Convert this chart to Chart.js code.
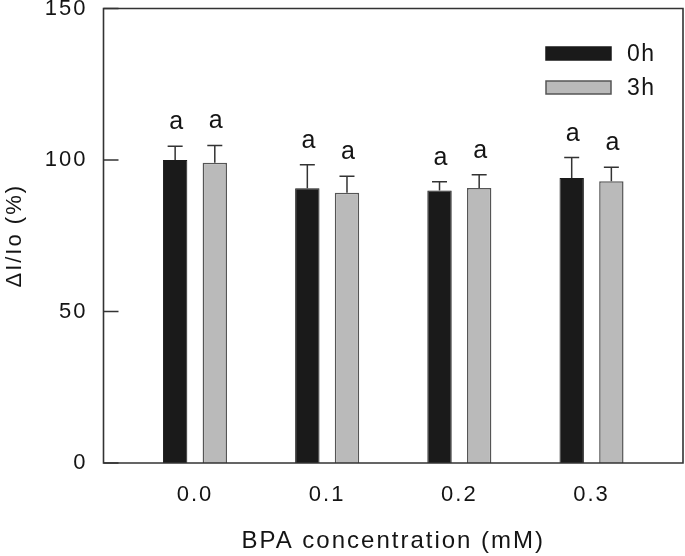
<!DOCTYPE html>
<html>
<head>
<meta charset="utf-8">
<script src="https://cdn.jsdelivr.net/npm/chart.js@4.4.1/dist/chart.umd.min.js"></script>
<style>
html,body{margin:0;padding:0;background:#fff;}
#wrap{width:685px;height:556px;position:relative;}
</style>
</head>
<body>
<div id="wrap"><canvas id="c" width="685" height="556"></canvas></div>
<script>
// ---- data ----
const concentrations = [0.0, 0.1, 0.2, 0.3];
const categoryLabels = ['0.0', '0.1', '0.2', '0.3'];
const seriesNames = ['0h', '3h'];
const values0h = [100.0, 90.7, 89.9, 94.1];
const errors0h = [4.5, 7.7, 2.9, 6.7];
const values3h = [99.1, 89.2, 90.8, 93.0];
const errors3h = [5.7, 5.4, 4.3, 4.6];
const letters0h = ['a', 'a', 'a', 'a'];
const letters3h = ['a', 'a', 'a', 'a'];
const yTicks = [0, 50, 100, 150];
const xTitle = 'BPA concentration (mM)';
const yTitle = 'ΔI/Io (%)';

const FONT = "'Liberation Sans', Arial, Helvetica, sans-serif";
const AXIS_COLOR = '#333333';
const TEXT_COLOR = '#141414';

const ds = [
  {label: seriesNames[0], data: concentrations.map((x, i) => ({x, y: values0h[i]})),
   err: errors0h, letters: letters0h,
   backgroundColor: '#1a1a1a', borderColor: '#1a1a1a', borderWidth: 1},
  {label: seriesNames[1], data: concentrations.map((x, i) => ({x, y: values3h[i]})),
   err: errors3h, letters: letters3h,
   backgroundColor: '#bababa', borderColor: '#555555', borderWidth: 1.5}
];

const spacing = {
  id: 'spacing',
  beforeDraw(chart) { chart.ctx.letterSpacing = '2px'; }
};

const extras = {
  id: 'extras',
  afterDatasetsDraw(chart) {
    const ctx = chart.ctx;
    const y = chart.scales.y;
    const a = chart.chartArea;
    ctx.save();
    // error bars and letters
    chart.data.datasets.forEach((d, di) => {
      const meta = chart.getDatasetMeta(di);
      meta.data.forEach((bar, i) => {
        const top = d.data[i].y + d.err[i];
        const yTop = y.getPixelForValue(top);
        ctx.strokeStyle = '#333';
        ctx.lineWidth = 1.5;
        ctx.beginPath();
        ctx.moveTo(bar.x, bar.y);
        ctx.lineTo(bar.x, yTop);
        ctx.moveTo(bar.x - 7.5, yTop);
        ctx.lineTo(bar.x + 7.5, yTop);
        ctx.stroke();
        ctx.fillStyle = TEXT_COLOR;
        ctx.letterSpacing = '0px';
        ctx.font = '25px ' + FONT;
        ctx.textAlign = 'center';
        ctx.textBaseline = 'alphabetic';
        ctx.fillText(d.letters[i], bar.x + 1, y.getPixelForValue(top + 5.6));
      });
    });
    // frame
    ctx.strokeStyle = AXIS_COLOR;
    ctx.lineWidth = 1.6;
    ctx.beginPath();
    ctx.rect(a.left, a.top, a.right - a.left, a.bottom - a.top);
    ctx.stroke();
    // inward y ticks
    ctx.beginPath();
    yTicks.forEach(v => {
      const py = y.getPixelForValue(v);
      ctx.moveTo(a.left, py);
      ctx.lineTo(a.left + 15, py);
    });
    ctx.stroke();
    // legend
    const lx = 546, lw = 65, lh = 13;
    const rows = [47, 81];
    chart.data.datasets.forEach((d, di) => {
      const ry = rows[di];
      ctx.fillStyle = d.backgroundColor;
      ctx.fillRect(lx, ry, lw, lh);
      ctx.strokeStyle = d.borderColor;
      ctx.lineWidth = 1.5;
      ctx.strokeRect(lx, ry, lw, lh);
      ctx.fillStyle = TEXT_COLOR;
      ctx.letterSpacing = '1.5px';
      ctx.font = '23px ' + FONT;
      ctx.textAlign = 'left';
      ctx.textBaseline = 'middle';
      ctx.fillText(d.label, 627, ry + lh / 2 + 1);
    });
    ctx.restore();
  }
};

new Chart(document.getElementById('c'), {
  type: 'bar',
  data: {datasets: ds},
  options: {
    responsive: false,
    animation: false,
    events: [],
    layout: {padding: {top: 8.5, right: 2, left: 0, bottom: 0}},
    categoryPercentage: 0.6,
    barPercentage: 0.615,
    plugins: {legend: {display: false}, tooltip: {enabled: false}},
    scales: {
      x: {
        type: 'linear',
        min: -0.0692,
        max: 0.3692,
        offset: false,
        grid: {display: false, drawTicks: false},
        border: {display: false},
        afterBuildTicks(s) { s.ticks = concentrations.map(v => ({value: v})); },
        afterFit(s) { s.height = 93; s.paddingLeft = 0; s.paddingRight = 0; },
        ticks: {
          padding: 19,
          color: TEXT_COLOR,
          font: {size: 22, family: FONT},
          maxRotation: 0,
          autoSkip: false,
          callback: (v, i) => categoryLabels[i]
        },
        title: {display: true, text: xTitle, color: TEXT_COLOR,
                font: {size: 24, family: FONT}, padding: {top: 0, bottom: 0}}
      },
      y: {
        min: 0, max: 150,
        grid: {display: false, drawTicks: false},
        border: {display: false},
        afterBuildTicks(s) { s.ticks = yTicks.map(v => ({value: v})); },
        afterFit(s) { s.width = 103.5; s.paddingTop = 0; s.paddingBottom = 0; },
        ticks: {padding: 16, color: TEXT_COLOR, font: {size: 22, family: FONT}},
        title: {display: true, text: yTitle, color: TEXT_COLOR,
                font: {size: 22, family: FONT}, padding: {top: 1.5, bottom: 0}}
      }
    }
  },
  plugins: [spacing, extras]
});
</script>
</body>
</html>
